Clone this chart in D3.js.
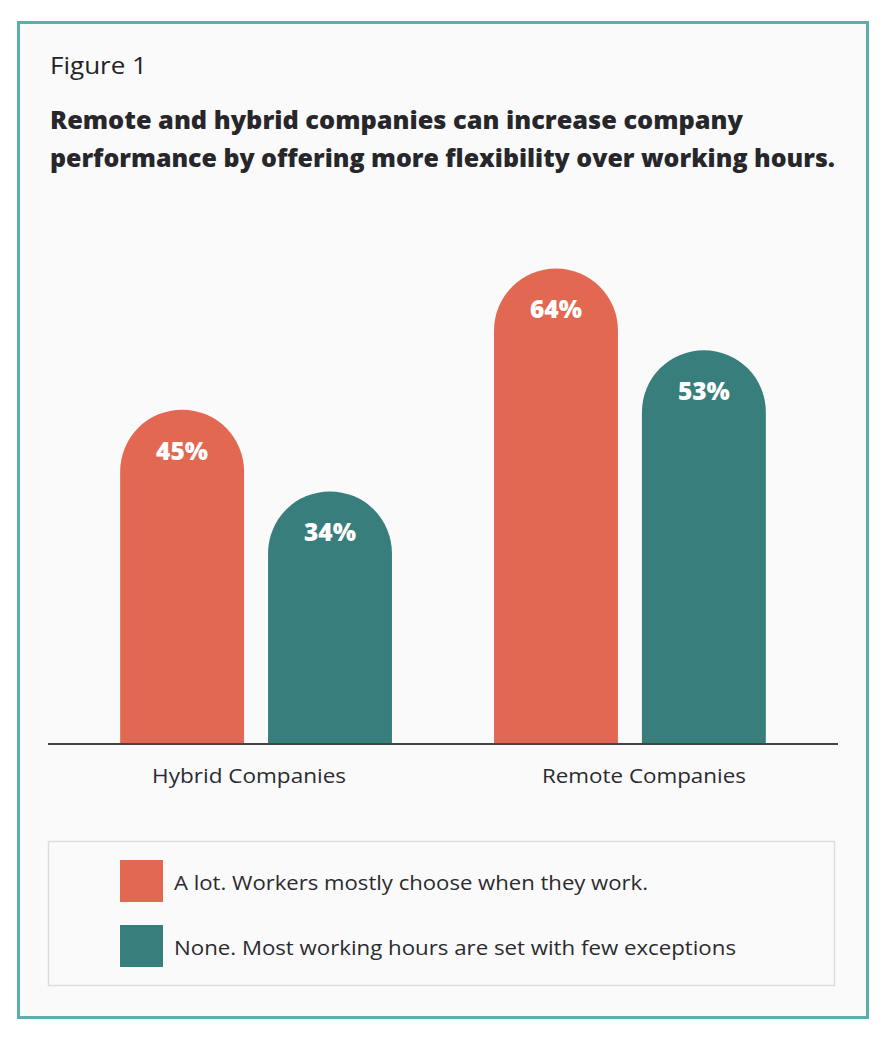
<!DOCTYPE html>
<html>
<head>
<meta charset="utf-8">
<script src="https://cdn.jsdelivr.net/npm/d3@7"></script>
<style>
  html, body { margin: 0; padding: 0; background: #ffffff; }
  svg { display: block; font-family: "Open Sans", Lato, sans-serif; }
</style>
</head>
<body>
<div id="chart"></div>
<script>
/* ===== Data ===== */
const categories = ["Hybrid Companies", "Remote Companies"];
const seriesNames = ["A lot. Workers mostly choose when they work.",
                     "None. Most working hours are set with few exceptions"];
const seriesKeys = ["alot", "none"];
const alotValues = [45, 64];
const noneValues = [34, 53];
const seriesColors = ["#e26852", "#387e7d"];

const figureLabel = "Figure 1";
const titleLines = ["Remote and hybrid companies can increase company",
                    "performance by offering more flexibility over working hours."];

/* ===== Layout ===== */
const W = 894, H = 1046;
const plot = { left: 48, right: 838, base: 744 };

// widths, used to fit the substitute font
const titleWidths = [693, 785];
const catWidths = [194, 204];
const legendWidths = [474, 562];

const svg = d3.select("#chart").append("svg")
  .attr("width", W).attr("height", H)
  .attr("viewBox", [0, 0, W, H]);

// frame
svg.append("rect")
  .attr("x", 18.5).attr("y", 22.5)
  .attr("width", 849).attr("height", 995)
  .attr("fill", "#fafafa")
  .attr("stroke", "#5aaead")
  .attr("stroke-width", 3);

// headings
svg.append("text")
  .attr("x", 50).attr("y", 74)
  .attr("font-size", 24)
  .attr("fill", "#242428")
  .attr("textLength", 97)
  .attr("lengthAdjust", "spacingAndGlyphs")
  .text(figureLabel);

svg.append("g")
  .selectAll("text")
  .data(titleLines)
  .join("text")
  .attr("x", 50)
  .attr("y", (d, i) => 129 + i * 38)
  .attr("font-size", 24)
  .attr("font-weight", 800)
  .attr("fill", "#27272b")
  .attr("textLength", (d, i) => titleWidths[i])
  .attr("lengthAdjust", "spacingAndGlyphs")
  .text(d => d);

/* ===== Scales ===== */
const x0 = d3.scaleBand()
  .domain(categories)
  .range([plot.left, plot.right])
  .paddingInner(0.273)
  .paddingOuter(0.193);

const x1 = d3.scaleBand()
  .domain(seriesKeys)
  .range([0, x0.bandwidth()])
  .paddingInner(0.162);

const y = d3.scaleLinear()
  .domain([0, 70])
  .range([plot.base, plot.base - 70 * 7.43]);

const color = d3.scaleOrdinal().domain(seriesKeys).range(seriesColors);

const rows = categories.map((c, i) => ({
  cat: c,
  vals: [
    { key: "alot", value: alotValues[i] },
    { key: "none", value: noneValues[i] }
  ]
}));

function roundTopBar(x, w, top, base) {
  const r = w / 2;
  return `M${x},${base} V${top + r} A${r},${r} 0 0 1 ${x + w},${top + r} V${base} Z`;
}

/* ===== Bars ===== */
const groups = svg.append("g")
  .selectAll("g")
  .data(rows)
  .join("g")
  .attr("transform", d => `translate(${x0(d.cat)},0)`);

groups.selectAll("path")
  .data(d => d.vals)
  .join("path")
  .attr("d", d => roundTopBar(x1(d.key), x1.bandwidth(), y(d.value), y(0)))
  .attr("fill", d => color(d.key));

groups.selectAll("text")
  .data(d => d.vals)
  .join("text")
  .attr("x", d => x1(d.key) + x1.bandwidth() / 2)
  .attr("y", d => y(d.value) + 50)
  .attr("text-anchor", "middle")
  .attr("font-size", 24)
  .attr("font-weight", 800)
  .attr("fill", "#ffffff")
  .attr("textLength", 52)
  .attr("lengthAdjust", "spacingAndGlyphs")
  .text(d => d.value + "%");

/* ===== Axis ===== */
const axis = svg.append("g")
  .attr("transform", `translate(0,${plot.base})`)
  .call(d3.axisBottom(x0).tickSize(0));

axis.select(".domain")
  .attr("stroke", "#444444")
  .attr("stroke-width", 2)
  .attr("d", `M${plot.left},0H${plot.right}`);

// label centres sit a little off the group centres in the reference
const catShift = [-7, 14];
axis.selectAll(".tick text")
  .attr("font-family", "'Open Sans', Lato, sans-serif")
  .attr("font-size", 20)
  .attr("fill", "#2b2b2f")
  .attr("y", 39)
  .attr("dy", null)
  .attr("x", (d, i) => catShift[i])
  .attr("textLength", (d, i) => catWidths[i])
  .attr("lengthAdjust", "spacingAndGlyphs");

/* ===== Legend ===== */
svg.append("rect")
  .attr("x", 48.5).attr("y", 841.5)
  .attr("width", 786).attr("height", 144)
  .attr("fill", "#fafafa")
  .attr("stroke", "#dddddd")
  .attr("stroke-width", 1.5);

const legend = svg.append("g")
  .selectAll("g")
  .data(seriesKeys)
  .join("g")
  .attr("transform", (d, i) => `translate(120,${860 + i * 65})`);

legend.append("rect")
  .attr("width", 43).attr("height", 42)
  .attr("fill", d => color(d));

legend.append("text")
  .attr("x", 54).attr("y", 30)
  .attr("font-size", 20)
  .attr("fill", "#2b2b2f")
  .attr("textLength", (d, i) => legendWidths[i])
  .attr("lengthAdjust", "spacingAndGlyphs")
  .text((d, i) => seriesNames[i]);
</script>
</body>
</html>
